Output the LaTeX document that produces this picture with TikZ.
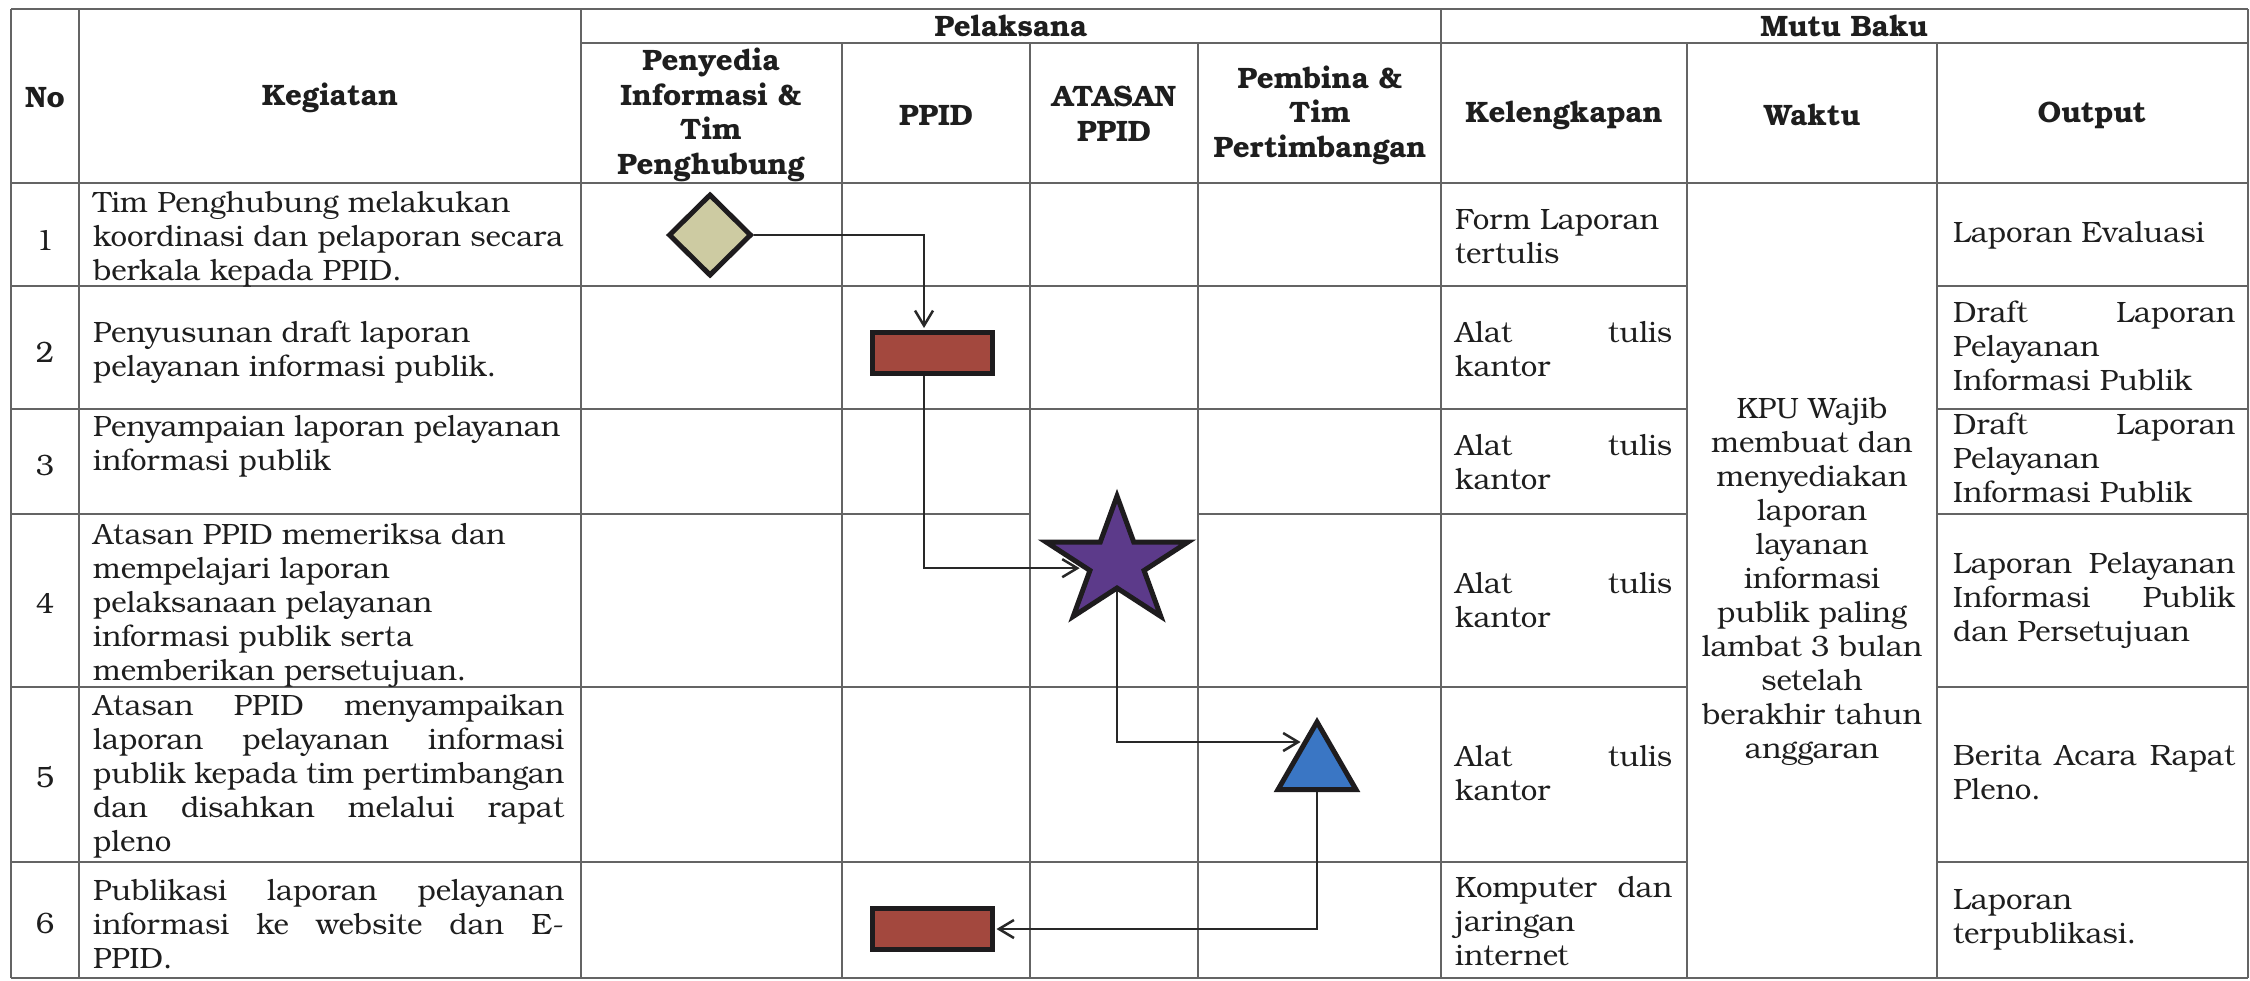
\documentclass[tikz,border=0pt]{standalone}
\usepackage{fontspec}
\setmainfont{TeX Gyre Bonum}
\usetikzlibrary{shapes.geometric,arrows.meta}
\definecolor{gridc}{RGB}{100,100,100}
\definecolor{txt}{RGB}{30,30,30}
\definecolor{shapeline}{RGB}{30,28,30}
\definecolor{connline}{RGB}{40,40,40}
\definecolor{diafill}{RGB}{205,203,162}
\definecolor{rectfill}{RGB}{163,72,62}
\definecolor{starfill}{RGB}{92,58,138}
\definecolor{trifill}{RGB}{58,118,196}
\newcommand{\jw}[2]{\makebox[#1][s]{#2}}
\tikzset{
  grid/.style={draw=gridc, line width=1.8pt},
  body/.style={font=\fontsize{29.4}{34}\selectfont, text=txt, inner sep=0pt},
  tl/.style={body, align=left, anchor=west},
  tc/.style={body, align=center},
  hd/.style={font=\fontsize{29.5}{34.5}\selectfont\bfseries, text=txt, align=center, inner sep=0pt},
  shp/.style={draw=shapeline, line width=5pt, inner sep=0pt},
  procbox/.style={shp, rectangle, fill=rectfill, minimum width=120pt, minimum height=41pt},
  conn/.style={draw=connline, line width=2.5pt, shorten >=2pt, -{Straight Barb[length=15pt,width=18pt]}},
}
\begin{document}
\begin{tikzpicture}[x=1pt,y=-1pt]
\useasboundingbox (0,0) rectangle (2250,980);
\fill[white] (0,0) rectangle (2250,980);
% horizontal grid lines
\draw[grid] (11,9) -- (2248,9);
\draw[grid] (581,43) -- (2248,43);
\draw[grid] (11,183) -- (2248,183);
\foreach \yy in {286,409,687,862} {
  \draw[grid] (11,\yy) -- (1687,\yy);
  \draw[grid] (1937,\yy) -- (2248,\yy);
}
\draw[grid] (11,514) -- (1030,514);
\draw[grid] (1198,514) -- (1687,514);
\draw[grid] (1937,514) -- (2248,514);
\draw[grid] (11,978) -- (2248,978);
% vertical grid lines
\foreach \xx in {11,79,581,1441,2248} {\draw[grid] (\xx,9) -- (\xx,978);}
\foreach \xx in {842,1030,1198,1687,1937} {\draw[grid] (\xx,43) -- (\xx,978);}
% headers
\node[hd] (hno) at (45,98) {No};
\node[hd] (hkeg) at (330,98) {Kegiatan};
\node[hd] (hpel) at (1011,26) {Pelaksana};
\node[hd] (hpen) at (711,115) {Penyedia\\Informasi \&\\Tim\\Penghubung};
\node[hd] (hppid) at (936,115) {PPID};
\node[hd] (hata) at (1114,114) {ATASAN\\PPID};
\node[hd] (hpem) at (1320,115) {Pembina \&\\Tim\\Pertimbangan};
\node[hd] (hmb) at (1844,26) {Mutu Baku};
\node[hd] (hkel) at (1564,115) {Kelengkapan};
\node[hd] (hwak) at (1812,115) {Waktu};
\node[hd] (hout) at (2092,115) {Output};
% numbers
\node[tc] (no1) at (45,240) {1};
\node[tc] (no2) at (45,352) {2};
\node[tc] (no3) at (45,465) {3};
\node[tc] (no4) at (45,603) {4};
\node[tc] (no5) at (45,777) {5};
\node[tc] (no6) at (45,923) {6};
% kegiatan
\node[tl] (k1) at (93,239) {Tim Penghubung melakukan\\koordinasi dan pelaporan secara\\berkala kepada PPID.};
\node[tl] (k2) at (93,352) {Penyusunan draft laporan\\pelayanan informasi publik.};
\node[tl] (k3) at (93,446) {Penyampaian laporan pelayanan\\informasi publik};
\node[tl] (k4) at (93,605) {Atasan PPID memeriksa dan\\mempelajari laporan\\pelaksanaan pelayanan\\informasi publik serta\\memberikan persetujuan.};
\node[tl] (k5) at (93,776) {\jw{471pt}{Atasan PPID menyampaikan}\\\jw{471pt}{laporan pelayanan informasi}\\\jw{471pt}{publik kepada tim pertimbangan}\\\jw{471pt}{dan disahkan melalui rapat}\\pleno};
\node[tl] (k6) at (93,924) {\jw{471pt}{Publikasi laporan pelayanan}\\\jw{471pt}{informasi ke website dan E-}\\PPID.};
% kelengkapan
\node[tl] (l1) at (1455,237) {Form Laporan\\tertulis};
\node[tl] (l2) at (1455,349) {\jw{217pt}{Alat tulis}\\kantor};
\node[tl] (l3) at (1455,462) {\jw{217pt}{Alat tulis}\\kantor};
\node[tl] (l4) at (1455,600) {\jw{217pt}{Alat tulis}\\kantor};
\node[tl] (l5) at (1455,773) {\jw{217pt}{Alat tulis}\\kantor};
\node[tl] (l6) at (1455,921) {\jw{217pt}{Komputer dan}\\jaringan\\internet};
% waktu
\node[tc] (wk) at (1812,581) {KPU Wajib\\membuat dan\\menyediakan\\laporan\\layanan\\informasi\\publik paling\\lambat 3 bulan\\setelah\\berakhir tahun\\anggaran};
% output
\node[tl] (o1) at (1953,235) {Laporan Evaluasi};
\node[tl] (o2) at (1953,346) {\jw{282pt}{Draft Laporan}\\Pelayanan\\Informasi Publik};
\node[tl] (o3) at (1953,458) {\jw{282pt}{Draft Laporan}\\Pelayanan\\Informasi Publik};
\node[tl] (o4) at (1953,600) {\jw{282pt}{Laporan Pelayanan}\\\jw{282pt}{Informasi Publik}\\dan Persetujuan};
\node[tl] (o5) at (1953,773) {\jw{282pt}{Berita Acara Rapat}\\Pleno.};
\node[tl] (o6) at (1953,920) {Laporan\\terpublikasi.};
% flow shapes
\node[shp, diamond, fill=diafill, minimum width=83pt, minimum height=82pt] (dia) at (710,235) {};
\node[procbox] (rect1) at (932,353) {};
\begin{scope}[shift={(1117,562.6)}, xscale=1.12]
\node[shp, star, star points=5, star point ratio=2.618, minimum size=133pt, fill=starfill, transform shape] (star) at (0,0) {};
\end{scope}
\node[shp, regular polygon, regular polygon sides=3, minimum size=90pt, fill=trifill] (tri) at (1317,767) {};
\node[procbox] (rect2) at (932,929) {};
% connectors
\draw[conn] (dia.east) -| ([xshift=-8pt]rect1.north);
\draw[conn] ([xshift=-8pt]rect1.south) |- (star.190);
\draw[conn] (star.south) |- (tri.120);
\draw[conn] (tri.south) |- (rect2.east);
\end{tikzpicture}
\end{document}
